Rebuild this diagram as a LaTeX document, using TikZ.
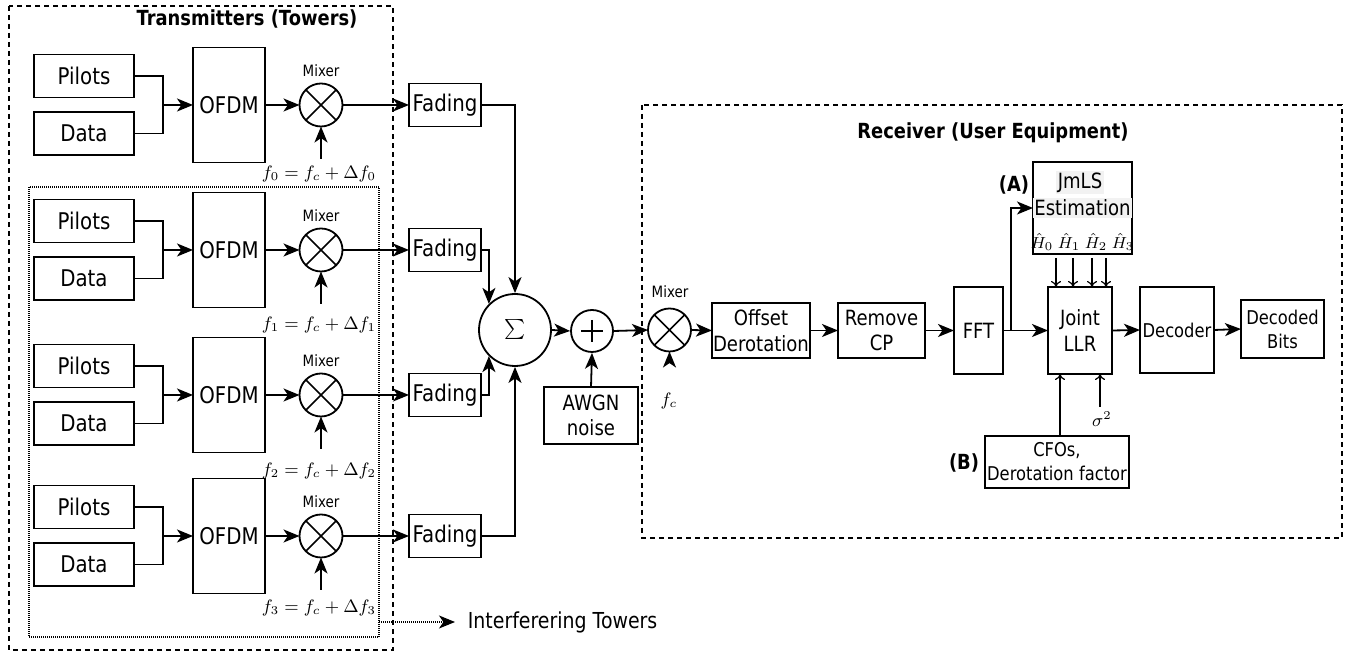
\documentclass[tikz,border=0pt]{standalone}
\usepackage[no-math]{fontspec}
\setmainfont{DejaVu Sans}[FakeStretch=0.86]
\usetikzlibrary{arrows.meta,calc}
\begin{document}
\begin{tikzpicture}[x=0.5pt,y=-0.5pt,line width=0.9pt,
  box/.style={draw,rectangle,inner sep=0pt,outer sep=0pt,align=center,font=\fontsize{11.5}{13.8}\selectfont},
  rbox/.style={box,font=\fontsize{10.5}{12.8}\selectfont},
  sbox/.style={box,font=\fontsize{9.5}{12}\selectfont},
  mix/.style={draw,circle,inner sep=0pt,outer sep=0pt,minimum size=21.5pt},
  arr/.style={-{Stealth[length=8pt,width=6.5pt,inset=2.2pt]}},
  tarr/.style={line width=0.6pt,-{To[length=3pt,width=5pt]}},
  lbl/.style={inner sep=0pt,font=\fontsize{7.8}{9}\selectfont},
  mlbl/.style={inner sep=0pt,font=\fontsize{9}{11}\selectfont},
  hlbl/.style={inner sep=0pt,font=\fontsize{8}{10}\selectfont},
  ttl/.style={inner sep=0pt,font=\fontsize{10.4}{12}\selectfont\bfseries},
  txbox/.style={dash pattern=on 2.5pt off 2pt,line width=0.7pt},
  inbox/.style={dash pattern=on 0.5pt off 0.5pt,line width=0.6pt},
]
\useasboundingbox (0,0) rectangle (1356,656);

% containers
\draw[txbox] (9,6) rectangle (393,650);
\draw[inbox] (29,187) rectangle (379,637);
\draw[txbox] (642,105) rectangle (1342,538);
\node[ttl] (ttx) at (247,19) {Transmitters (Towers)};
\node[ttl] (trx) at (993,133) {Receiver (User Equipment)};

% towers
\foreach \k/\c/\fl in {0/105/174,1/250/325,2/395/471,3/536/608}{
  \node[box,minimum width=50pt,minimum height=21.5pt] (P\k) at (84,{\c-29}) {Pilots};
  \node[box,minimum width=50pt,minimum height=21.5pt] (D\k) at (84,{\c+28.5}) {Data};
  \node[box,minimum width=36pt,minimum height=57.5pt] (O\k) at (229,\c) {OFDM};
  \node[mix] (M\k) at (321,\c) {};
  \draw[line width=0.8pt] (M\k.45) -- (M\k.225) (M\k.135) -- (M\k.315);
  \node[lbl] (ML\k) at (321,{\c-34}) {Mixer};
  \node[mlbl] (FL\k) at (319,\fl) {$f_\k = f_c + \Delta f_\k$};
  \coordinate (FS\k) at (321,{\c+54});
  \node[box,minimum width=36pt,minimum height=21.5pt] (F\k) at (445,\c) {Fading};
  \coordinate (J\k) at (163,\c);
  \draw (P\k.east) -| (J\k);
  \draw (D\k.east) -| (J\k);
  \draw[arr] (J\k) -- (O\k.west);
  \draw[arr] (O\k.east) -- (M\k.west);
  \draw[arr] (FS\k) -- (M\k.south);
  \draw[arr] (M\k.east) -- (F\k.west);
}

% combining
\node[draw,circle,inner sep=0pt,minimum size=36pt] (S) at (515,330) {\fontsize{17}{19}\selectfont$\sum$};
\draw[arr] (F0.east) -| (S.north);
\draw[arr] (F1.east) -| (S.135);
\draw[arr] (F2.east) -| (S.225);
\draw[arr] (F3.east) -| (S.south);

\node[draw,circle,inner sep=0pt,minimum size=21pt] (A) at (592,331) {};
\draw[line width=0.7pt] ($(A.center)+(-11,0)$) -- ($(A.center)+(11,0)$) ($(A.center)+(0,-11)$) -- ($(A.center)+(0,11)$);
\node[rbox,minimum width=47pt,minimum height=28.5pt] (N) at (591,415.5) {AWGN\\noise};
\draw[arr] (S.east) -- (A.west);
\draw[arr] (N.north) -- (A.south);

% receiver
\node[mix] (RM) at (669.5,330) {};
\draw[line width=0.8pt] (RM.45) -- (RM.225) (RM.135) -- (RM.315);
\node[lbl] (RML) at (670,292) {Mixer};
\node[mlbl] (fcl) at (669,401) {$f_c$};
\coordinate (fcs) at (669.5,360);
\draw[arr] (A.east) -- (RM.west);
\draw[arr] (fcs) -- (RM.south);

\node[rbox,minimum width=49pt,minimum height=27.5pt] (OD) at (761,330.5) {Offset\\Derotation};
\node[rbox,minimum width=43.5pt,minimum height=27.5pt] (RC) at (881.5,330.5) {Remove\\CP};
\node[rbox,minimum width=24.5pt,minimum height=43.5pt] (FFT) at (978.5,330.5) {FFT};
\node[rbox,minimum width=32pt,minimum height=43.5pt] (LLR) at (1080,330.5) {Joint\\LLR};
\node[sbox,minimum width=37pt,minimum height=43pt] (DEC) at (1177,330) {Decoder};
\node[sbox,minimum width=41.5pt,minimum height=29pt] (DB) at (1282.5,329) {Decoded\\Bits};
\node[box,minimum width=49.5pt,minimum height=46pt] (JM) at (1082.5,208) {};
\node[inner sep=0.8pt,fill=black!5,font=\fontsize{10.5}{12.8}\selectfont] (JMa) at (1080,183) {JmLS};
\node[inner sep=0.8pt,fill=black!5,font=\fontsize{10.5}{12.8}\selectfont] (JMb) at (1082.5,208) {Estimation};
\node[hlbl] (HH) at (1082.5,242) {$\hat{H}_0\;\hat{H}_1\;\hat{H}_2\;\hat{H}_3$};
\node[sbox,minimum width=72pt,minimum height=26pt] (CFO) at (1057,462) {CFOs,\\Derotation factor};
\node[ttl] (LA) at (1014,185) {(A)};
\node[ttl] (LB) at (964,463) {(B)};

\draw[arr] (RM.east) -- (OD.west);
\draw[arr] (OD.east) -- (RC.west);
\draw[arr] (RC.east) -- (FFT.west);
\draw[arr] (FFT.east) -- (LLR.west);
\coordinate (BR) at (1011,330.5);
\draw[arr] (BR) |- (JM.west);
\draw[arr] (LLR.east) -- (DEC.west);
\draw[arr] (DEC.east) -- (DB.west);
\foreach \x in {1056,1073,1092,1106}{
  \coordinate (HT\x) at (\x,258);
  \draw[tarr] (HT\x) -- (HT\x |- LLR.north);
}
\coordinate (CT) at (1060,436);
\draw[tarr] (CT) -- (CT |- LLR.south);
\coordinate (SG) at (1100,407);
\node[mlbl] (SGL) at (1102,419) {$\sigma^2$};
\draw[tarr] (SG) -- (SG |- LLR.south);

% interfering towers
\coordinate (IT0) at (379,622);
\node[anchor=west,inner xsep=6pt,inner ysep=0pt,font=\fontsize{11}{13}\selectfont] (IT) at (455,622) {Interferering Towers};
\draw[inbox,arr] (IT0) -- (IT.west);
\end{tikzpicture}
\end{document}
